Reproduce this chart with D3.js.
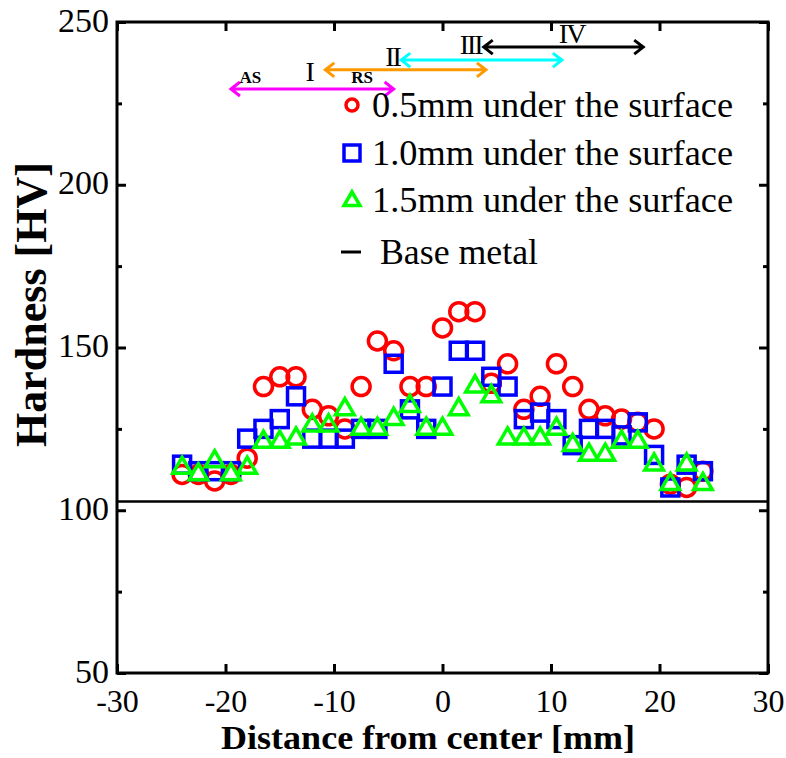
<!DOCTYPE html>
<html>
<head>
<meta charset="utf-8">
<script src="https://cdn.jsdelivr.net/npm/d3@7"></script>
<style>
  body { margin: 0; background: #fff; }
  svg { display: block; font-family: "Liberation Serif", "Times New Roman", serif; }
</style>
</head>
<body>
<div id="chart"></div>
<script>
// Measurement positions (mm from center)
const positions = [-24, -22.5, -21, -19.5, -18, -16.5, -15, -13.5, -12, -10.5, -9, -7.5, -6, -4.5, -3, -1.5,
  0, 1.5, 3, 4.5, 6, 7.5, 9, 10.5, 12, 13.5, 15, 16.5, 18, 19.5, 21, 22.5, 24];

const hv05 = [111, 111, 109, 111, 116, 138, 141, 141, 131, 129, 125, 138, 152, 149, 138, 138,
  156, 161, 161, 139, 145, 131, 135, 145, 138, 131, 129, 128, 127, 125, 108, 107, 112];
const hv10 = [114, 112, 112, 112, 122, 125, 128, 135, 122, 122, 122, 125, 125, 145, 131, 125,
  138, 149, 149, 141, 138, 128, 130, 128, 120, 125, 125, 123, 127, 117, 107, 114, 112];
const hv15 = [113, 111, 115, 111, 113, 121, 121, 122, 126, 126, 131, 125, 125, 128, 132, 125,
  125, 131, 138, 135, 122, 122, 122, 125, 120, 117, 117, 121, 121, 114, 108, 114, 108];

const baseMetal = 102.7;

const seriesNames = ["0.5mm under the surface", "1.0mm under the surface", "1.5mm under the surface"];
const seriesColors = ["#ff0000", "#0000ff", "#00ff00"];

// Zone arrows at the top
const zoneNames = ["I", "II", "III", "IV"];
const zoneStart = [-19.5, -10.8, -3.8, 3.8];
const zoneEnd = [-4.5, 4.0, 11.0, 18.5];
const zoneLevel = [229.4, 235.3, 238.3, 242.3];
const zoneColors = ["#ff00ff", "#ff9900", "#00ffff", "#000000"];
const zoneLabelX = [-12.3, -4.6, 2.6, 11.9];
const zoneLabelY = [232, 236.5, 240.3, 243.4];

const sideNames = ["AS", "RS"];
const sideX = [-17.7, -7.4];
const sideY = [231.2, 231.2];

const xTicks = [-30, -20, -10, 0, 10, 20, 30];
const yTicks = [50, 100, 150, 200, 250];
const yMinorTicks = [75, 125, 175, 225];

const width = 786;
const height = 758;
const margin = { top: 22, right: 18, bottom: 85, left: 117 };

const svg = d3.select("#chart").append("svg")
  .attr("width", width)
  .attr("height", height);

const x = d3.scaleLinear().domain([-30, 30]).range([margin.left, width - margin.right]);
const y = d3.scaleLinear().domain([50, 250]).range([height - margin.bottom, margin.top]);

// Base metal line
svg.append("line")
  .attr("x1", x(-30)).attr("x2", x(30))
  .attr("y1", y(baseMetal)).attr("y2", y(baseMetal))
  .attr("stroke", "#000").attr("stroke-width", 2.5);

// Markers
const data05 = positions.map((p, i) => ({ x: p, y: hv05[i] }));
const data10 = positions.map((p, i) => ({ x: p, y: hv10[i] }));
const data15 = positions.map((p, i) => ({ x: p, y: hv15[i] }));

svg.append("g").selectAll("circle")
  .data(data05).enter().append("circle")
  .attr("cx", (d) => x(d.x)).attr("cy", (d) => y(d.y))
  .attr("r", 9)
  .attr("fill", "none").attr("stroke", seriesColors[0]).attr("stroke-width", 3.5);

svg.append("g").selectAll("rect")
  .data(data10).enter().append("rect")
  .attr("x", (d) => x(d.x) - 8.5).attr("y", (d) => y(d.y) - 8.5)
  .attr("width", 17).attr("height", 17)
  .attr("fill", "none").attr("stroke", seriesColors[1]).attr("stroke-width", 3.5);

const tri = d3.symbol().type(d3.symbolTriangle).size(150);
svg.append("g").selectAll("path")
  .data(data15).enter().append("path")
  .attr("transform", (d) => `translate(${x(d.x)},${y(d.y)})`)
  .attr("d", tri)
  .attr("fill", "none").attr("stroke", seriesColors[2]).attr("stroke-width", 3.5)
  .attr("stroke-linejoin", "miter");

// Axes (box with inward ticks)
const axisG = svg.append("g");
axisG.append("rect")
  .attr("x", x(-30)).attr("y", y(250))
  .attr("width", x(30) - x(-30)).attr("height", y(50) - y(250))
  .attr("fill", "none").attr("stroke", "#000").attr("stroke-width", 3);

const hyphen = (d) => String(d).replace("\u2212", "-");

const bottomAxis = axisG.append("g")
  .attr("transform", `translate(0,${y(50)})`)
  .call(d3.axisBottom(x).tickValues(xTicks).tickSizeInner(-9).tickSizeOuter(0).tickPadding(16).tickFormat(hyphen));
axisG.append("g")
  .attr("transform", `translate(0,${y(250)})`)
  .call(d3.axisTop(x).tickValues(xTicks).tickSizeInner(-9).tickSizeOuter(0).tickFormat(""));
const leftAxis = axisG.append("g")
  .attr("transform", `translate(${x(-30)},0)`)
  .call(d3.axisLeft(y).tickValues(yTicks).tickSizeInner(-9).tickSizeOuter(0).tickPadding(8));
axisG.append("g")
  .attr("transform", `translate(${x(30)},0)`)
  .call(d3.axisRight(y).tickValues(yTicks).tickSizeInner(-9).tickSizeOuter(0).tickFormat(""));
axisG.append("g")
  .attr("transform", `translate(${x(-30)},0)`)
  .call(d3.axisLeft(y).tickValues(yMinorTicks).tickSizeInner(-5).tickSizeOuter(0).tickFormat(""));
axisG.append("g")
  .attr("transform", `translate(${x(30)},0)`)
  .call(d3.axisRight(y).tickValues(yMinorTicks).tickSizeInner(-5).tickSizeOuter(0).tickFormat(""));

axisG.selectAll(".domain").remove();
axisG.selectAll(".tick line").attr("stroke", "#000").attr("stroke-width", 3);
axisG.selectAll(".tick text")
  .attr("font-family", "Liberation Serif")
  .attr("font-size", 34)
  .attr("fill", "#000");
leftAxis.selectAll(".tick text").attr("dy", "0.27em");
bottomAxis.selectAll(".tick text").attr("font-size", 32);

// Axis titles
svg.append("text")
  .attr("x", 428)
  .attr("y", 749)
  .attr("text-anchor", "middle")
  .attr("font-weight", "bold")
  .attr("font-size", 33)
  .attr("textLength", 414)
  .attr("lengthAdjust", "spacingAndGlyphs")
  .text("Distance from center [mm]");

svg.append("text")
  .attr("transform", `translate(46,${y(150) - 43}) rotate(-90)`)
  .attr("text-anchor", "middle")
  .attr("font-weight", "bold")
  .attr("font-size", 44)
  .text("Hardness [HV]");

// Zone arrows
function arrowPath(x1, x2, yy) {
  const h = 9, w = 7;
  return `M${x1},${yy}L${x2},${yy}` +
    `M${x1 + h},${yy - w}L${x1},${yy}L${x1 + h},${yy + w}` +
    `M${x2 - h},${yy - w}L${x2},${yy}L${x2 - h},${yy + w}`;
}

const zones = svg.append("g");
zoneNames.forEach((name, i) => {
  zones.append("path")
    .attr("d", arrowPath(x(zoneStart[i]), x(zoneEnd[i]), y(zoneLevel[i])))
    .attr("fill", "none")
    .attr("stroke", zoneColors[i])
    .attr("stroke-width", 3);
  zones.append("text")
    .attr("x", x(zoneLabelX[i]))
    .attr("y", y(zoneLabelY[i]))
    .attr("text-anchor", "middle")
    .attr("font-size", 28)
    .attr("letter-spacing", -2)
    .text(name);
});
sideNames.forEach((name, i) => {
  zones.append("text")
    .attr("x", x(sideX[i]))
    .attr("y", y(sideY[i]))
    .attr("text-anchor", "middle")
    .attr("font-size", 17)
    .attr("font-weight", "bold")
    .text(name);
});

// Legend
const legend = svg.append("g");
const legendRows = [105, 153, 200, 252];
const mx = 352;
legend.append("circle")
  .attr("cx", mx).attr("cy", legendRows[0]).attr("r", 6)
  .attr("fill", "none").attr("stroke", seriesColors[0]).attr("stroke-width", 3.5);
legend.append("rect")
  .attr("x", mx - 8).attr("y", legendRows[1] - 8).attr("width", 16).attr("height", 16)
  .attr("fill", "none").attr("stroke", seriesColors[1]).attr("stroke-width", 3.5);
legend.append("path")
  .attr("transform", `translate(${mx},${legendRows[2] + 1})`)
  .attr("d", d3.symbol().type(d3.symbolTriangle).size(110))
  .attr("fill", "none").attr("stroke", seriesColors[2]).attr("stroke-width", 3.5);
legend.append("line")
  .attr("x1", mx - 11).attr("x2", mx + 9)
  .attr("y1", legendRows[3]).attr("y2", legendRows[3])
  .attr("stroke", "#000").attr("stroke-width", 3);

const legendWidths = [361, 361, 361, 158];
seriesNames.concat(["Base metal"]).forEach((name, i) => {
  legend.append("text")
    .attr("x", i < 3 ? 372 : 380)
    .attr("y", legendRows[i] + 12)
    .attr("font-size", 35)
    .attr("textLength", legendWidths[i])
    .attr("lengthAdjust", "spacingAndGlyphs")
    .text(name);
});
</script>
</body>
</html>
